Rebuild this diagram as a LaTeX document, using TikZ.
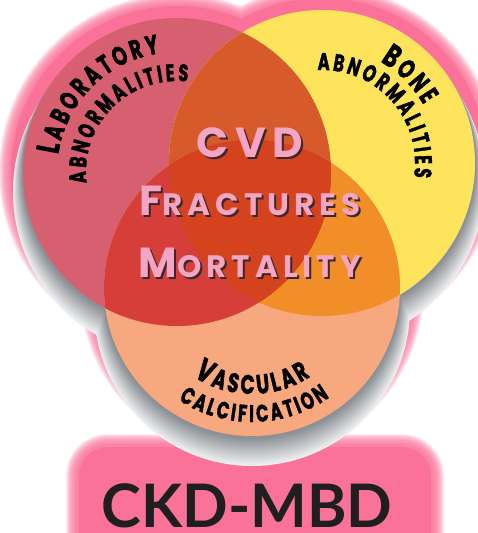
\documentclass[tikz,border=0pt]{standalone}
\usepackage{fontspec}
\usepackage{tikz}
\usetikzlibrary{calc, decorations.text}
\newfontfamily\arcfont{Poppins}[WordSpace=0.8, FakeStretch=0.68, FakeBold=1.5]
\newfontfamily\midfont{Poppins}[LetterSpace=16]
\newfontfamily\titlefont{Lato}
\definecolor{glowpink}{RGB}{251,114,153}
\definecolor{labred}{RGB}{214,96,112}
\definecolor{boneyellow}{RGB}{253,228,92}
\definecolor{vascpeach}{RGB}{247,168,127}
\definecolor{labbone}{RGB}{214,90,42}
\definecolor{labvasc}{RGB}{214,62,58}
\definecolor{bonevasc}{RGB}{242,142,40}
\definecolor{coreorange}{RGB}{212,66,30}
\definecolor{capspink}{RGB}{244,165,194}
\definecolor{capsshade}{RGB}{58,40,46}
\definecolor{shadowgray}{RGB}{118,124,130}
\newcommand{\capbig}{\arcfont\bfseries\fontsize{32pt}{32pt}\selectfont}
\newcommand{\capsmall}{\arcfont\bfseries\fontsize{27pt}{27pt}\selectfont}
\newcommand{\capsub}{\arcfont\bfseries\fontsize{24pt}{24pt}\selectfont}
\newcommand{\initcap}[1]{{\fontsize{42pt}{42pt}\selectfont#1}}
\newcommand{\restcap}[1]{{\fontsize{31pt}{31pt}\selectfont#1}}

\begin{document}
\begin{tikzpicture}[x=1pt, y=1pt]
  \def\rLab{154}
  \def\rBone{153}
  \def\rVasc{148}
  \tikzset{
    midtext/.style={anchor=base, inner sep=0pt, text=capspink, font=\midfont\bfseries},
    midshade/.style={midtext, text=capsshade},
    titletext/.style={anchor=base, inner sep=0pt, text=black!88, font=\titlefont\bfseries\fontsize{60pt}{60pt}\selectfont},
    arclabel/.style={decorate, decoration={text along path, text align=center, text={#1}}}
  }
  \useasboundingbox (0,0) rectangle (477,-533);
  \fill[white] (0,0) rectangle (477,-533);
  \coordinate (labC) at (177,-172);
  \coordinate (boneC) at (322,-163);
  \coordinate (vascC) at (252,-288);

  % pink halo round the circles and the title band
  \foreach \w in {48,46,...,26}{
    \draw[glowpink, line width=\w pt, opacity=0.15]
      (labC) circle[radius=\rLab] (boneC) circle[radius=\rBone] (vascC) circle[radius=\rVasc];
    \draw[glowpink, line width=\w pt-12pt, opacity=0.15, rounded corners=24pt]
      (84,-452) rectangle (426,-570);
  }
  \draw[glowpink, line width=24pt]
    (labC) circle[radius=\rLab] (boneC) circle[radius=\rBone] (vascC) circle[radius=\rVasc];
  \draw[glowpink, line width=10pt, rounded corners=24pt] (84,-452) rectangle (426,-570);
  \fill[glowpink, rounded corners=24pt] (84,-452) rectangle (426,-570);

  % grey drop shadow
  \foreach \s in {20,19,...,2}{
    \pgfmathtruncatemacro\shade{92-4*\s}
    \fill[shadowgray!\shade!white] ($(labC)+(0,-\s)$) circle[radius=\rLab+0.5*\s];
    \fill[shadowgray!\shade!white] ($(boneC)+(0,-\s)$) circle[radius=\rBone+0.5*\s];
    \fill[shadowgray!\shade!white] ($(vascC)+(0,-\s)$) circle[radius=\rVasc+0.5*\s];
  }

  % the three circles and their overlaps
  \fill[labred] (labC) circle[radius=\rLab];
  \fill[boneyellow] (boneC) circle[radius=\rBone];
  \fill[vascpeach] (vascC) circle[radius=\rVasc];
  \begin{scope}
    \clip (boneC) circle[radius=\rBone];
    \fill[bonevasc] (vascC) circle[radius=\rVasc];
  \end{scope}
  \begin{scope}
    \clip (labC) circle[radius=\rLab];
    \fill[labbone] (boneC) circle[radius=\rBone];
    \fill[labvasc] (vascC) circle[radius=\rVasc];
    \clip (boneC) circle[radius=\rBone];
    \fill[coreorange] (vascC) circle[radius=\rVasc];
  \end{scope}

  % curved labels
  \path[arclabel={|\capbig|L|\capsmall| A B O R A T O R Y}]
    ($(labC)+(205:120)$) arc[start angle=205, end angle=65, radius=120];
  \path[arclabel={|\capsub|A B N O R M A L I T I E S}]
    ($(labC)+(215:91)$) arc[start angle=215, end angle=55, radius=91];
  \path[arclabel={|\capbig|B|\capsmall| O N E}]
    ($(boneC)+(100:117)$) arc[start angle=100, end angle=-10, radius=117];
  \path[arclabel={|\capsub|A B N O R M A L I T I E S}]
    ($(boneC)+(122:93)$) arc[start angle=122, end angle=-38, radius=93];
  \path[arclabel={|\capbig|V|\capsmall| A S C U L A R}]
    ($(vascC)+(215:106)$) arc[start angle=215, end angle=325, radius=106];
  \path[arclabel={|\capsub|C A L C I F I C A T I O N}]
    ($(vascC)+(216:134)$) arc[start angle=216, end angle=326, radius=134];

  % outcomes in the middle
  \node[midshade] (cvdshade) at (252,-159) {\initcap{CVD}};
  \node[midtext] (cvd) at (250,-157) {\initcap{CVD}};
  \node[midshade] (fractshade) at (252,-217) {\initcap{F}\restcap{RACTURES}};
  \node[midtext] (fract) at (250,-215) {\initcap{F}\restcap{RACTURES}};
  \node[midshade] (mortshade) at (252,-279) {\initcap{M}\restcap{ORTALITY}};
  \node[midtext] (mort) at (250,-277) {\initcap{M}\restcap{ORTALITY}};

  \node[titletext] (title) at (247,-527) {CKD-MBD};
\end{tikzpicture}
\end{document}
